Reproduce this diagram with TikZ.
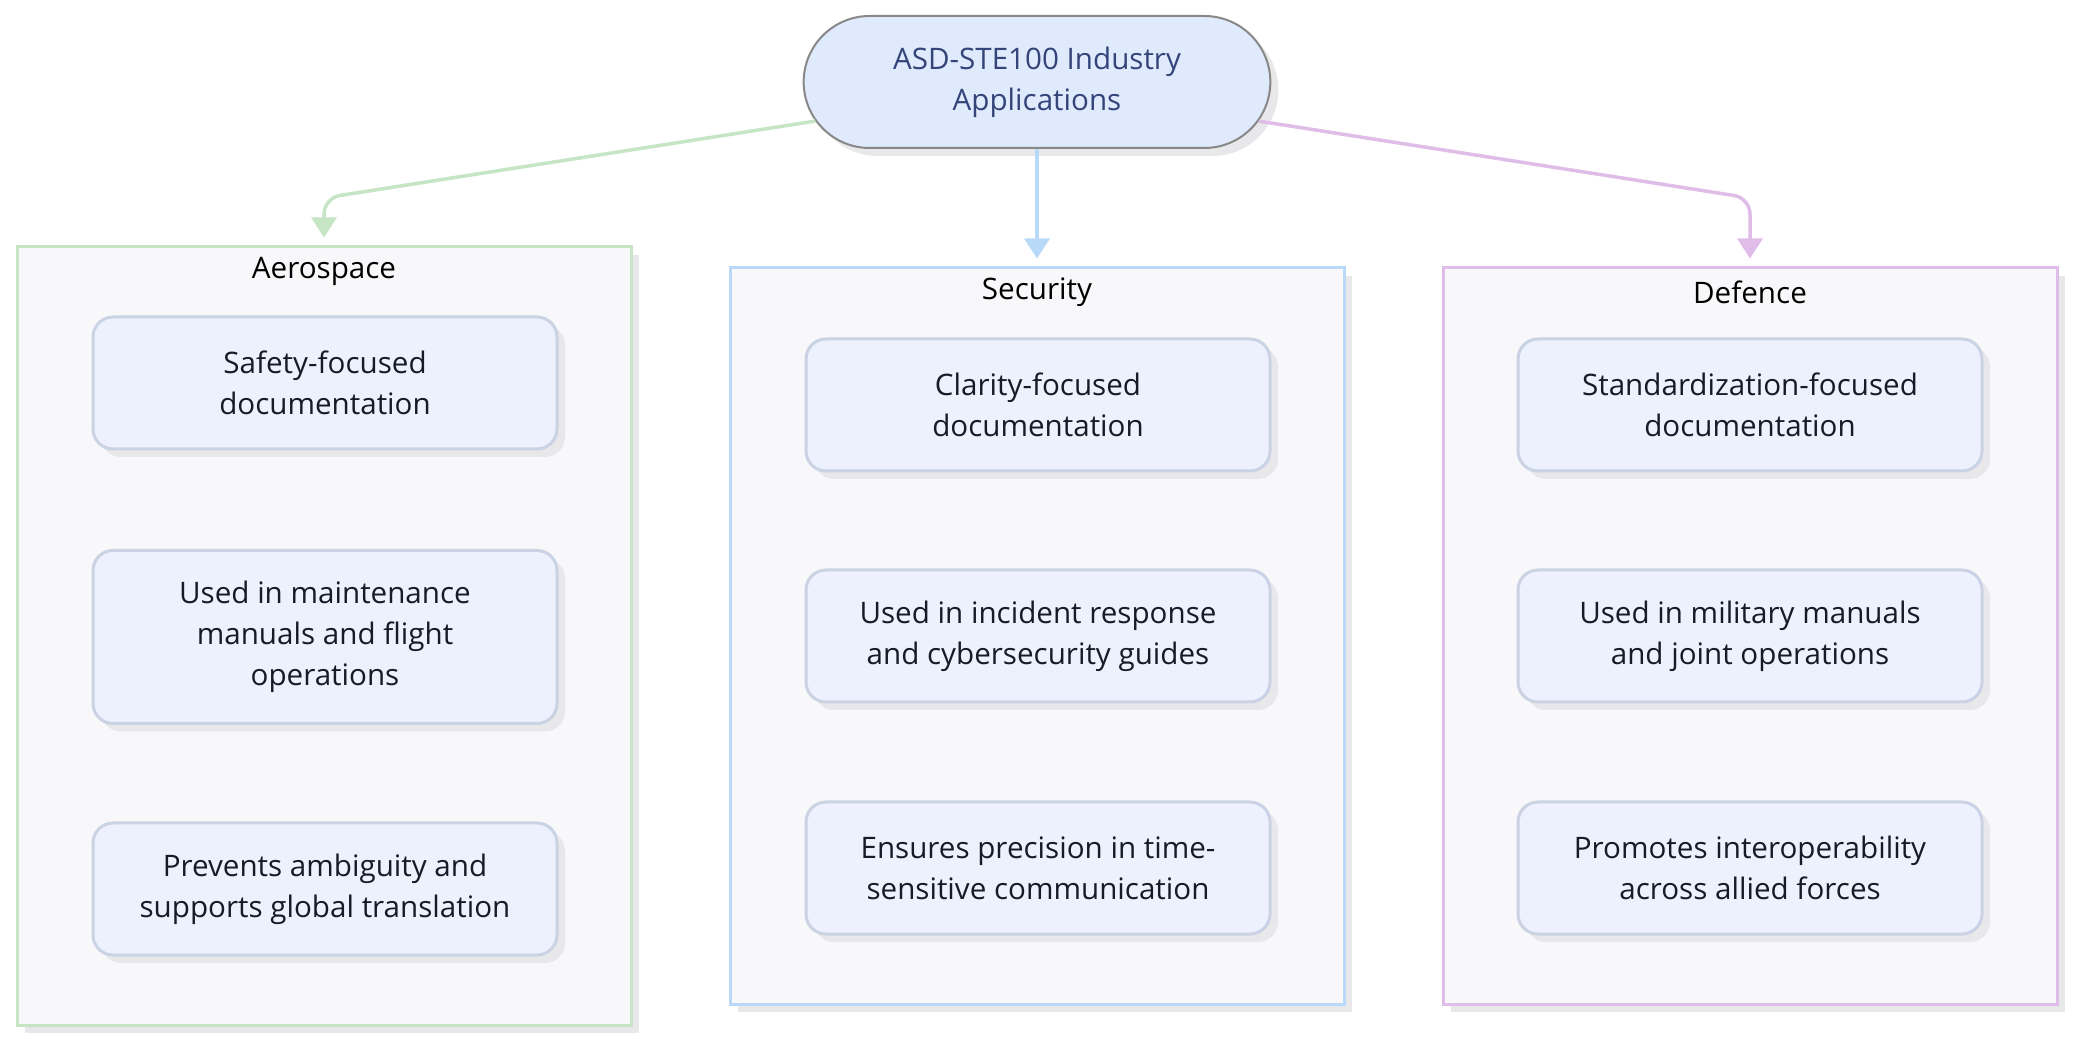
\documentclass[tikz,border=0pt]{standalone}
\usepackage{fontspec}
\setmainfont{Open Sans}
\usetikzlibrary{positioning,shapes.misc,shadows,arrows.meta}

\definecolor{appfill}{RGB}{224,234,253}
\definecolor{appdraw}{RGB}{136,136,136}
\definecolor{apptext}{RGB}{52,69,122}
\definecolor{boxfill}{RGB}{248,248,250}
\definecolor{itemfill}{RGB}{237,241,253}
\definecolor{itemdraw}{RGB}{201,211,227}
\definecolor{itemtext}{RGB}{22,27,40}
\definecolor{shade}{RGB}{232,232,234}
\definecolor{aerocol}{RGB}{197,229,197}
\definecolor{secucol}{RGB}{184,218,248}
\definecolor{defecol}{RGB}{224,189,232}

\tikzset{
  txt/.style={font=\fontsize{14.8}{20.5}\selectfont, align=center},
  cluster/.style={draw, line width=1.5pt, fill=boxfill, minimum width=307pt, inner sep=0pt,
    drop shadow={shadow xshift=4pt, shadow yshift=-4pt, fill=shade, opacity=1}},
  title/.style={txt, text=black, anchor=center},
  item/.style={txt, draw=itemdraw, line width=1.5pt, fill=itemfill, text=itemtext,
    rounded corners=10pt, minimum width=232pt, minimum height=66pt,
    drop shadow={shadow xshift=4pt, shadow yshift=-4pt, fill=shade, opacity=1}},
  tall/.style={minimum height=86.5pt},
  link/.style={line width=1.75pt, rounded corners=8pt, shorten >=4pt,
    -{Triangle[width=12.5pt,length=10pt]}}
}

\begin{document}
\begin{tikzpicture}[x=0.5pt,y=-0.5pt]
\useasboundingbox (0,0) rectangle (2074,1042);

% clusters
\node[cluster, draw=aerocol, minimum height=389pt] (aero) at (324,636) {};
\node[cluster, draw=secucol, minimum height=368pt] (secu) at (1037,636) {};
\node[cluster, draw=defecol, minimum height=368pt] (defe) at (1750,636) {};
\node[title] (aerotitle) at (324,271) {Aerospace};
\node[title] (secutitle) at (1037,292) {Security};
\node[title] (defetitle) at (1750,292) {Defence};

% root
\node[txt, rounded rectangle, draw=appdraw, line width=1pt, fill=appfill, text=apptext,
  minimum width=240pt, minimum height=66pt,
  drop shadow={shadow xshift=4pt, shadow yshift=-4pt, fill=shade, opacity=1}]
  (app) at (1037,82) {ASD-STE100 Industry\\Applications};

% aerospace
\node[item] (aero1) at (325,383) {Safety-focused\\documentation};
\node[item, tall] (aero2) at (325,637) {Used in maintenance\\manuals and flight\\operations};
\node[item] (aero3) at (325,889) {Prevents ambiguity and\\supports global translation};

% security
\node[item] (secu1) at (1038,405) {Clarity-focused\\documentation};
\node[item] (secu2) at (1038,636) {Used in incident response\\and cybersecurity guides};
\node[item] (secu3) at (1038,868) {Ensures precision in time-\\sensitive communication};

% defence
\node[item] (defe1) at (1750,405) {Standardization-focused\\documentation};
\node[item] (defe2) at (1750,636) {Used in military manuals\\and joint operations};
\node[item] (defe3) at (1750,868) {Promotes interoperability\\across allied forces};

% links
\coordinate (aeroturn) at (324,198);
\coordinate (defeturn) at (1750,198);
\draw[link, aerocol] (app.190) -- (aeroturn) -- (aero.north);
\draw[link, secucol] (app.south) -- (secu.north);
\draw[link, defecol] (app.350) -- (defeturn) -- (defe.north);
\end{tikzpicture}
\end{document}
